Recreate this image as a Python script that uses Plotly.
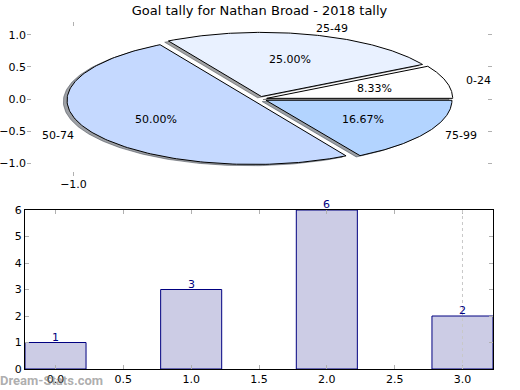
import numpy as np
import plotly.graph_objects as go

# ---------------- data ----------------
categories = ["0-24", "25-49", "50-74", "75-99"]
counts = [1, 3, 6, 2]
slice_colors = ["#FFFFFF", "#E9F1FF", "#C5D9FF", "#B3D4FF"]
explode = [0.04, 0.04, 0.04, 0.04]
bar_positions = [0, 1, 2, 3]
title_text = "Goal tally for Nathan Broad - 2018 tally"
pie_yticks = [1.0, 0.5, 0.0, -0.5, -1.0]
pie_xticks = [-1.0]
bar_xticks = [0.0, 0.5, 1.0, 1.5, 2.0, 2.5, 3.0]
bar_yticks = [0, 1, 2, 3, 4, 5, 6]
watermark = "Dream-Stats.com"

W, H = 520, 390
FONT = "DejaVu Sans"


def fmt(v):
    s = "%.1f" % abs(v)
    return ("\u2212" + s) if v < 0 else s


def hex_rgb(h):
    h = h.lstrip("#")
    return [int(h[i:i + 2], 16) for i in (0, 2, 4)]


fig = go.Figure()

total = float(sum(counts))
theta = 0.0
wedges, shadows, label_pts, pct_pts = [], [], [], []
for cat, c, col, ex in zip(categories, counts, slice_colors, explode):
    frac = c / total
    t1, t2 = theta, theta + 360.0 * frac
    mid = np.deg2rad((t1 + t2) / 2)
    cx, cy = ex * np.cos(mid), ex * np.sin(mid)
    ang = np.deg2rad(np.linspace(t1, t2, 160))
    xs = np.concatenate([[cx], cx + np.cos(ang), [cx]])
    ys = np.concatenate([[cy], cy + np.sin(ang), [cy]])
    wedges.append((xs, ys, col))
    shadows.append((xs - 0.02, ys - 0.02, col))
    label_pts.append((cx + 1.1 * np.cos(mid), cy + 1.1 * np.sin(mid), cat))
    pct_pts.append((cx + 0.6 * np.cos(mid), cy + 0.6 * np.sin(mid), "%.2f%%" % (100 * frac)))
    theta = t2

for xs, ys, col in shadows:
    r, g, b = hex_rgb(col)
    sc = "rgba(%d,%d,%d,0.5)" % (int(0.3 * r), int(0.3 * g), int(0.3 * b))
    fig.add_trace(go.Scatter(x=xs, y=ys, mode="lines", fill="toself", fillcolor=sc,
                             line=dict(color=sc, width=1), hoverinfo="skip",
                             showlegend=False, xaxis="x", yaxis="y"))
for xs, ys, col in wedges:
    fig.add_trace(go.Scatter(x=xs, y=ys, mode="lines", fill="toself", fillcolor=col,
                             line=dict(color="black", width=1), hoverinfo="skip",
                             showlegend=False, xaxis="x", yaxis="y"))

for x, y, t in label_pts:
    fig.add_annotation(x=x, y=y, xref="x", yref="y", text=t, showarrow=False,
                       xanchor="left" if x > 0 else "right", yanchor="middle",
                       font=dict(family=FONT, size=11, color="black"))
for x, y, t in pct_pts:
    fig.add_annotation(x=x, y=y, xref="x", yref="y", text=t, showarrow=False,
                       xanchor="center", yanchor="middle",
                       font=dict(family=FONT, size=11, color="black"))

# ---------------- bar chart ----------------
fig.add_trace(go.Bar(x=bar_positions, y=counts, width=0.45,
                     marker=dict(color="#CCCCE5", line=dict(color="#000080", width=1)),
                     showlegend=False, hoverinfo="skip", xaxis="x2", yaxis="y2"))
for x, y in zip(bar_positions, counts):
    fig.add_annotation(x=x, y=y, xref="x2", yref="y2", text=str(y), showarrow=False,
                       xanchor="center", yanchor="bottom", yshift=-3,
                       font=dict(family=FONT, size=11, color="#000080"))

fig.add_shape(type="line", xref="x2", yref="y2 domain", x0=bar_positions[-1],
              x1=bar_positions[-1], y0=0, y1=1,
              line=dict(color="#C8C8C8", width=1, dash="dot"), layer="above")

fig.add_annotation(x=0, y=1 - 380.5 / H, xref="paper", yref="paper", text="<b>" + watermark + "</b>",
                   showarrow=False, xanchor="left", yanchor="middle", xshift=-2,
                   font=dict(family="Roboto", size=13, color="rgba(128,128,128,0.65)"))

tickfont = dict(family=FONT, size=11, color="black")
common = dict(showgrid=False, zeroline=False, ticks="inside", ticklen=4, tickcolor="#B0B0B0",
              mirror="ticks", tickfont=tickfont, fixedrange=True, automargin=False)
fig.update_layout(
    width=W, height=H, margin=dict(l=0, r=0, t=0, b=0, autoexpand=False),
    paper_bgcolor="white", plot_bgcolor="rgba(0,0,0,0)",
    font=dict(family=FONT, size=11, color="black"),
    title=dict(text=title_text, x=259.5 / W, xanchor="center", y=1 - 10 / H, yanchor="middle",
               font=dict(family=FONT, size=13, color="black")),
    xaxis=dict(domain=[27 / W, 492 / W], range=[-1.25, 1.25], anchor="y", showline=False,
               tickvals=pie_xticks, ticktext=[fmt(v) for v in pie_xticks], **common),
    yaxis=dict(domain=[1 - 176 / H, 1 - 22 / H], range=[-1.2, 1.2], anchor="x", showline=False,
               tickvals=pie_yticks, ticktext=[fmt(v) for v in pie_yticks], **common),
    xaxis2=dict(domain=[25 / W, 493 / W], range=[-0.225, 3.225], anchor="y2",
                showline=True, linecolor="black", linewidth=1,
                tickvals=bar_xticks, ticktext=[fmt(v) for v in bar_xticks], **common),
    yaxis2=dict(domain=[1 - 369 / H, 1 - 210 / H], range=[0, 6], anchor="x2",
                showline=True, linecolor="black", linewidth=1,
                tickvals=bar_yticks, ticktext=[str(v) for v in bar_yticks], **common),
)

fig.write_html("out.html", config={"displayModeBar": False, "staticPlot": True},
               post_script="document.body.style.margin='0px';document.body.style.overflow='hidden';")
